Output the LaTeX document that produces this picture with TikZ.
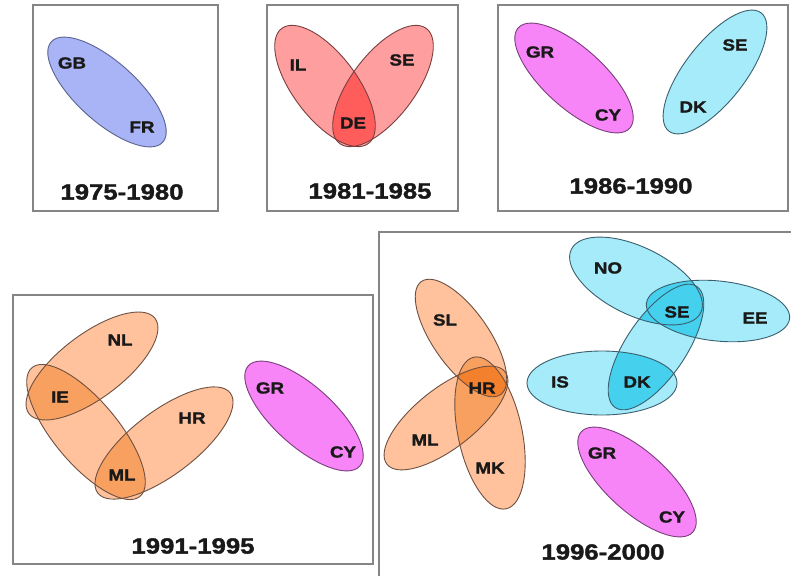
\documentclass[tikz,border=0pt]{standalone}
\usepackage{fontspec}
\newfontfamily\lblfont{Liberation Sans}[FakeStretch=1.17, BoldFeatures={FakeBold=1.6}]
\definecolor{cblue}{HTML}{A8B4F5}
\definecolor{cbluel}{HTML}{5A6390}
\definecolor{cred}{HTML}{FF9E9E}
\definecolor{credd}{HTML}{FF5C5C}
\definecolor{credl}{HTML}{7A4040}
\definecolor{cmag}{HTML}{F885F8}
\definecolor{cmagl}{HTML}{7A3E7A}
\definecolor{ccyan}{HTML}{A5EBFA}
\definecolor{ccyand}{HTML}{45D0EE}
\definecolor{ccyanl}{HTML}{3A6070}
\definecolor{corg}{HTML}{FFC29C}
\definecolor{corgd}{HTML}{F8A060}
\definecolor{corgt}{HTML}{F2802C}
\definecolor{corgl}{HTML}{6E5040}
\definecolor{cframe}{HTML}{858585}
% ellipse: cx, cy, a, b, angle, options
\newcommand{\ellpath}[6]{\path[#6, rotate around={#5:(#1,#2)}] (#1,#2) ellipse [x radius=#3, y radius=#4];}
\newcommand{\ellclip}[5]{\clip[rotate around={#5:(#1,#2)}] (#1,#2) ellipse [x radius=#3, y radius=#4];}
\newcommand{\ellA}[2]{\expandafter\ellpath#1{#2}}
\newcommand{\ellC}[1]{\expandafter\ellclip#1}
% ellipse data
\def\eGBFR{{107}{92}{75}{30}{-42}}
\def\eIL{{325}{86}{72}{32}{-53}}
\def\eSEa{{383}{86}{72}{32}{53}}
\def\eGRCYa{{574}{78}{75}{30}{-42}}
\def\eDKSE{{715}{72}{75}{30}{52}}
\def\eNL{{92}{366}{79}{32}{37}}
\def\eIEML{{86}{432}{84}{32}{-50}}
\def\eHRa{{164}{443}{83}{32}{37}}
\def\eGRCYb{{304}{416}{75}{30}{-42}}
\def\eSL{{461}{338}{69}{28}{-55}}
\def\eMLb{{446}{418}{75}{30}{38}}
\def\eMK{{490}{433}{77.5}{32}{-78}}
\def\eNO{{636}{281}{72}{34}{-26}}
\def\eEE{{718}{311}{72}{30}{-6}}
\def\eSEDK{{656}{347}{73}{30}{56}}
\def\eIS{{602}{383}{75}{32}{0}}
\def\eGRCYc{{637}{482}{75}{30}{-42}}
\tikzset{
  cl/.style={font=\lblfont\bfseries\fontsize{16}{16}\selectfont, inner sep=0pt, text=black!90},
  yr/.style={font=\lblfont\bfseries\fontsize{22}{22}\selectfont, inner sep=0pt, text=black!90},
  frame/.style={draw=cframe, line width=1.4pt},
  eline/.style={line width=0.9pt}
}
\begin{document}
\begin{tikzpicture}[x=1pt,y=-1pt]
\useasboundingbox (0,0) rectangle (791,575);
\clip (0,0) rectangle (791,575);
\fill[white] (0,0) rectangle (791,575);
% frames
\draw[frame] (33,5) rectangle (218,211);
\draw[frame] (267,5) rectangle (458,211);
\draw[frame] (498,5) rectangle (788,211);
\draw[frame] (13,295) rectangle (373,564);
\draw[frame] (379,232) rectangle (800,600);
% ---- 1975-1980
\ellA\eGBFR{fill=cblue}
\ellA\eGBFR{draw=cbluel, eline}
\node[cl] (gb1) at (72,63) {GB};
\node[cl] (fr1) at (142,127) {FR};
\node[yr] (y1) at (122,192) {1975-1980};
% ---- 1981-1985
\ellA\eIL{fill=cred}
\ellA\eSEa{fill=cred}
\begin{scope}\ellC\eIL \ellA\eSEa{fill=credd}\end{scope}
\ellA\eIL{draw=credl, eline}
\ellA\eSEa{draw=credl, eline}
\node[cl] (il2) at (298,65) {IL};
\node[cl] (se2) at (402,60) {SE};
\node[cl] (de2) at (353,123) {DE};
\node[yr] (y2) at (370,191) {1981-1985};
% ---- 1986-1990
\ellA\eGRCYa{fill=cmag}
\ellA\eGRCYa{draw=cmagl, eline}
\ellA\eDKSE{fill=ccyan}
\ellA\eDKSE{draw=ccyanl, eline}
\node[cl] (gr3) at (540,52) {GR};
\node[cl] (cy3) at (608,115) {CY};
\node[cl] (se3) at (735,45) {SE};
\node[cl] (dk3) at (693,107) {DK};
\node[yr] (y3) at (631,186) {1986-1990};
% ---- 1991-1995
\ellA\eNL{fill=corg}
\ellA\eIEML{fill=corg}
\ellA\eHRa{fill=corg}
\begin{scope}\ellC\eNL \ellA\eIEML{fill=corgd}\end{scope}
\begin{scope}\ellC\eHRa \ellA\eIEML{fill=corgd}\end{scope}
\ellA\eNL{draw=corgl, eline}
\ellA\eIEML{draw=corgl, eline}
\ellA\eHRa{draw=corgl, eline}
\ellA\eGRCYb{fill=cmag}
\ellA\eGRCYb{draw=cmagl, eline}
\node[cl] (nl4) at (120,340) {NL};
\node[cl] (ie4) at (60,397) {IE};
\node[cl] (hr4) at (192,418) {HR};
\node[cl] (ml4) at (122,475) {ML};
\node[cl] (gr4) at (270,388) {GR};
\node[cl] (cy4) at (343,452) {CY};
\node[yr] (y4) at (193,546) {1991-1995};
% ---- 1996-2000 orange
\ellA\eSL{fill=corg}
\ellA\eMLb{fill=corg}
\ellA\eMK{fill=corg}
\begin{scope}\ellC\eSL \ellA\eMLb{fill=corgd}\end{scope}
\begin{scope}\ellC\eSL \ellA\eMK{fill=corgd}\end{scope}
\begin{scope}\ellC\eMLb \ellA\eMK{fill=corgd}\end{scope}
\begin{scope}\ellC\eSL \ellC\eMLb \ellA\eMK{fill=corgt}\end{scope}
\ellA\eSL{draw=corgl, eline}
\ellA\eMLb{draw=corgl, eline}
\ellA\eMK{draw=corgl, eline}
\node[cl] (sl5) at (445,320) {SL};
\node[cl] (hr5) at (482,388) {HR};
\node[cl] (ml5) at (425,440) {ML};
\node[cl] (mk5) at (490,468) {MK};
% ---- 1996-2000 cyan
\ellA\eNO{fill=ccyan}
\ellA\eEE{fill=ccyan}
\ellA\eSEDK{fill=ccyan}
\ellA\eIS{fill=ccyan}
\begin{scope}\ellC\eNO \ellA\eEE{fill=ccyand}\end{scope}
\begin{scope}\ellC\eNO \ellA\eSEDK{fill=ccyand}\end{scope}
\begin{scope}\ellC\eEE \ellA\eSEDK{fill=ccyand}\end{scope}
\begin{scope}\ellC\eIS \ellA\eSEDK{fill=ccyand}\end{scope}
\ellA\eNO{draw=ccyanl, eline}
\ellA\eEE{draw=ccyanl, eline}
\ellA\eSEDK{draw=ccyanl, eline}
\ellA\eIS{draw=ccyanl, eline}
\node[cl] (no5) at (608,268) {NO};
\node[cl] (se5) at (677,312) {SE};
\node[cl] (ee5) at (755,318) {EE};
\node[cl] (is5) at (560,382) {IS};
\node[cl] (dk5) at (637,382) {DK};
% ---- 1996-2000 magenta
\ellA\eGRCYc{fill=cmag}
\ellA\eGRCYc{draw=cmagl, eline}
\node[cl] (gr5) at (602,453) {GR};
\node[cl] (cy5) at (672,517) {CY};
\node[yr] (y5) at (603,552) {1996-2000};
\end{tikzpicture}
\end{document}
